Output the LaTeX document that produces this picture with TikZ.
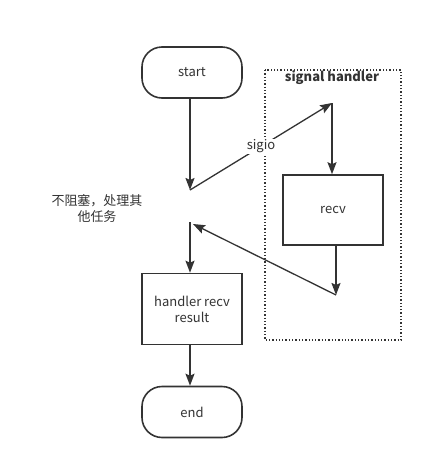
\documentclass[tikz,border=0pt]{standalone}
\usepackage{fontspec}
\setmainfont{Noto Sans CJK SC}
\usetikzlibrary{arrows.meta}
\definecolor{ink}{HTML}{333333}
\begin{document}
\begin{tikzpicture}[x=1pt,y=-1pt,
  every node/.style={font=\fontsize{13}{16}\selectfont, text=ink},
  term/.style={draw=ink, line width=1.6pt, rounded corners=20pt, minimum width=100pt, minimum height=51pt, inner sep=0pt},
  proc/.style={draw=ink, line width=1.6pt, minimum width=100pt, minimum height=71pt, inner sep=0pt, align=center},
  arr/.style={draw=ink, line width=1.6pt, -{Stealth[length=12pt,width=9pt,inset=2pt]}},
  thin arr/.style={draw=ink, line width=1.3pt, -{Stealth[length=12pt,width=9pt,inset=2pt]}},
]
\useasboundingbox (0,0) rectangle (433,469);
\fill[white] (0,0) rectangle (433,469);

\node[term] (start) at (192,72.5) {start};
\node[proc] (hr) at (192,309) {handler recv\\result};
\node[term] (end) at (192,412) {end};
\node[proc, minimum height=70pt] (recv) at (333,210) {recv};

\draw[ink, line width=1.3pt, dotted] (265,70) rectangle (401,340);
\node[font=\bfseries\fontsize{13}{16}\selectfont] (sh) at (332,78) {signal handler};

\coordinate (p1) at (190,190);
\coordinate (p2) at (332,103);
\coordinate (p3) at (336,295);
\coordinate (p4) at (193,224);
\coordinate (p5) at (190,222);
\coordinate (r1) at (336,246);

\draw[arr] (start.south -| p1) -- (p1);
\draw[thin arr] (p1) -- node[pos=0.5, fill=white, inner sep=1pt] (sig) {sigio} (p2);
\draw[arr] (p2) -- (recv.north -| p2);
\draw[arr] (r1) -- (p3);
\draw[thin arr] (p3) -- (p4);
\draw[arr] (p5) -- (hr.north -| p5);
\draw[arr] (hr.south -| p5) -- (end.north -| p5);

\node[align=center] (txt) at (97,209) {不阻塞，处理其\\他任务};
\end{tikzpicture}
\end{document}
